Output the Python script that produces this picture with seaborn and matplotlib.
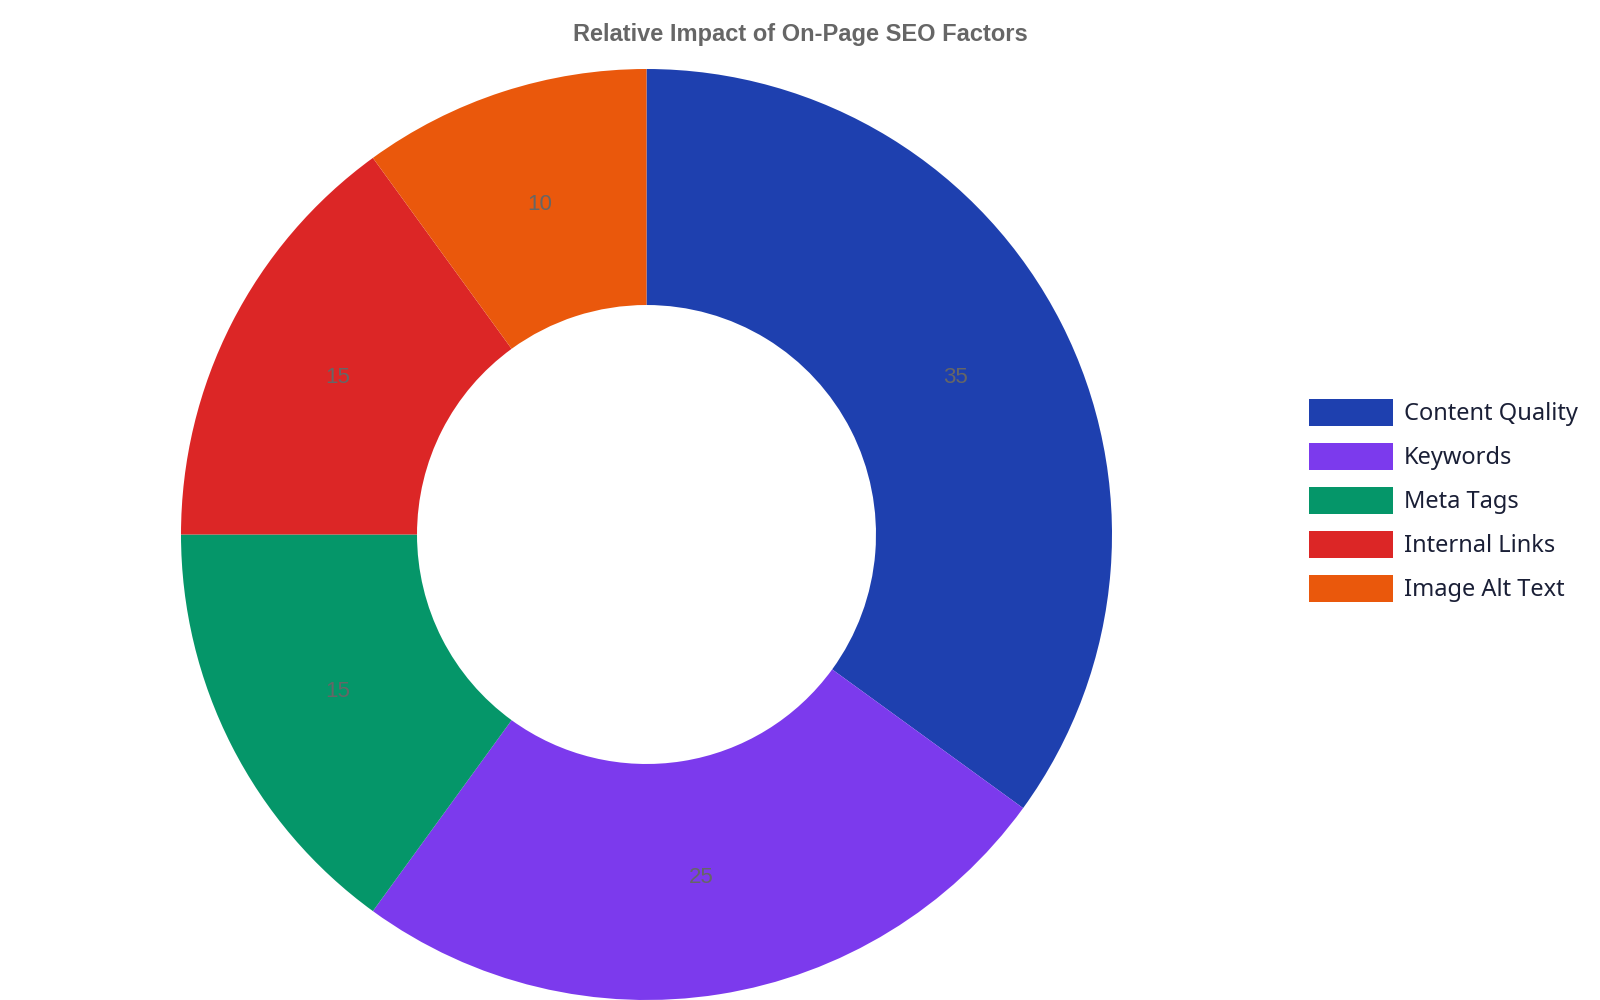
import matplotlib
matplotlib.use('Agg')
import matplotlib.pyplot as plt
import seaborn as sns

# chart data
factors = ['Content Quality', 'Keywords', 'Meta Tags', 'Internal Links', 'Image Alt Text']
impact = [35, 25, 15, 15, 10]
colors = ['#1e40af', '#7c3aed', '#059669', '#dc2626', '#ea580c']

sns.set_theme(style='white')
plt.rcParams['font.family'] = ['Liberation Sans', 'DejaVu Sans']

fig = plt.figure(figsize=(16, 10), dpi=100)
ax = fig.add_axes([181 / 1600, 0, 931 / 1600, 931 / 1000])

total = sum(impact)
wedges, texts, autotexts = ax.pie(
    impact,
    colors=sns.color_palette(colors),
    startangle=90,
    counterclock=False,
    radius=1,
    wedgeprops=dict(width=0.507, linewidth=0),
    autopct=lambda p: f'{p * total / 100:.0f}',
    pctdistance=0.745,
    textprops=dict(color='#666666', fontsize=16, family='Liberation Sans'),
)
ax.set_xlim(-1, 1)
ax.set_ylim(-1, 1)
ax.set_aspect('equal')
ax.axis('off')

fig.text(0.5003, 0.965, 'Relative Impact of On-Page SEO Factors',
         ha='center', va='center', fontsize=17, fontweight='bold',
         color='#666666', family='Liberation Sans')

leg = fig.legend(wedges, factors, loc='center left', bbox_to_anchor=(0.8182, 0.4995),
                 frameon=False, borderpad=0, borderaxespad=0,
                 handlelength=3.55, handleheight=1.42, handletextpad=0.45,
                 labelspacing=0.69,
                 prop={'family': 'Noto Sans', 'size': 17})
for t in leg.get_texts():
    t.set_color('#1a1f36')

fig.savefig('out.png', dpi=100, facecolor='white')
